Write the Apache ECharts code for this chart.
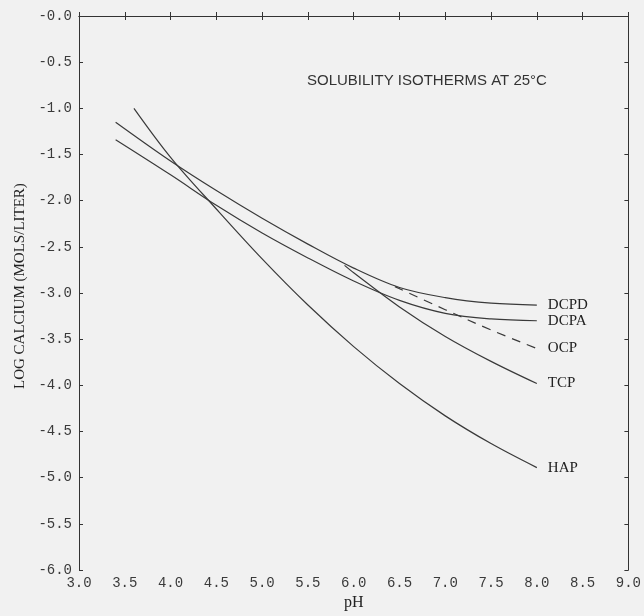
<!DOCTYPE html>
<html>
<head>
<meta charset="utf-8">
<script src="https://cdn.jsdelivr.net/npm/echarts@6/dist/echarts.min.js"></script>
<style>
html,body{margin:0;padding:0;background:#f1f1f1;}
#c{width:644px;height:616px;}
</style>
</head>
<body>
<div id="c"></div>
<script>
// Data (pH vs log calcium)
const dcpdPH = [3.4, 4.0, 4.5, 5.0, 5.5, 6.0, 6.5, 7.0, 7.5, 8.0];
const dcpdLog = [-1.15, -1.57, -1.89, -2.19, -2.47, -2.73, -2.94, -3.05, -3.11, -3.13];
const dcpaPH = [3.4, 4.0, 4.5, 5.0, 5.5, 6.0, 6.5, 7.0, 7.5, 8.0];
const dcpaLog = [-1.34, -1.72, -2.05, -2.35, -2.62, -2.87, -3.08, -3.22, -3.28, -3.30];
const ocpPH = [6.45, 7.0, 7.5, 8.0];
const ocpLog = [-2.93, -3.18, -3.40, -3.60];
const tcpPH = [5.9, 6.0, 6.5, 7.0, 7.5, 8.0];
const tcpLog = [-2.70, -2.78, -3.15, -3.47, -3.74, -3.98];
const hapPH = [3.6, 4.0, 4.5, 5.0, 5.5, 6.0, 6.5, 7.0, 7.5, 8.0];
const hapLog = [-1.0, -1.53, -2.09, -2.63, -3.13, -3.58, -3.98, -4.33, -4.63, -4.89];

const seriesNames = ['DCPD', 'DCPA', 'OCP', 'TCP', 'HAP'];
const chartTitle = 'SOLUBILITY ISOTHERMS AT 25°C';
const xName = 'pH';
const yName = 'LOG CALCIUM (MOLS/LITER)';

const pairs = (xs, ys) => xs.map((x, i) => [x, ys[i]]);
const lineColor = '#3a3a3a';
const textColor = '#3a3a3a';
const monoFont = '"Liberation Mono", "DejaVu Sans Mono", monospace';
const serifFont = '"Liberation Serif", "DejaVu Serif", serif';

function mkSeries(name, data, dashed) {
  return {
    name: name,
    type: 'line',
    data: data,
    smooth: 0.35,
    showSymbol: false,
    symbol: 'none',
    lineStyle: { color: lineColor, width: 1.2, type: dashed ? [9, 7] : 'solid' },
    endLabel: {
      show: true,
      formatter: name,
      distance: 11,
      color: '#222',
      fontFamily: serifFont,
      fontSize: 15
    },
    animation: false
  };
}

const chart = echarts.init(document.getElementById('c'));
const axisCommon = {
  axisLine: { show: true, lineStyle: { color: '#333', width: 1 } },
  axisTick: { show: true, inside: true, length: 4, lineStyle: { color: '#333' } },
  splitLine: { show: false }
};
chart.setOption({
  backgroundColor: '#f1f1f1',
  animation: false,
  grid: { left: 79, right: 12, top: 16, bottom: 37 },
  xAxis: [
    Object.assign({
      type: 'value', min: 3.0, max: 9.0, interval: 0.5,
      name: xName, nameLocation: 'middle', nameGap: 22,
      nameTextStyle: { fontFamily: serifFont, fontSize: 16, color: '#222' },
      axisLabel: {
        formatter: v => v.toFixed(1), fontFamily: monoFont, fontSize: 14,
        color: textColor, margin: 6
      }
    }, axisCommon),
    Object.assign({
      type: 'value', min: 3.0, max: 9.0, interval: 0.5, position: 'top',
      axisLabel: { show: false }
    }, axisCommon)
  ],
  yAxis: [
    Object.assign({
      type: 'value', min: -6, max: 0, interval: 0.5,
      name: yName, nameLocation: 'middle', nameGap: 50,
      nameTextStyle: { fontFamily: serifFont, fontSize: 15, color: '#222', padding: [0, 0, 0, 14] },
      axisLabel: {
        formatter: v => (v <= 0 ? '-' : '') + Math.abs(v).toFixed(1),
        fontFamily: monoFont, fontSize: 14, color: textColor, margin: 7
      }
    }, axisCommon),
    Object.assign({
      type: 'value', min: -6, max: 0, interval: 0.5, position: 'right',
      axisLabel: { show: false }
    }, axisCommon)
  ],
  graphic: [{
    type: 'text', left: 307, top: 73,
    style: { text: chartTitle, fontFamily: '"Liberation Sans", Arial, sans-serif', fontSize: 15, fill: '#333' }
  }],
  series: [
    mkSeries(seriesNames[0], pairs(dcpdPH, dcpdLog), false),
    mkSeries(seriesNames[1], pairs(dcpaPH, dcpaLog), false),
    mkSeries(seriesNames[2], pairs(ocpPH, ocpLog), true),
    mkSeries(seriesNames[3], pairs(tcpPH, tcpLog), false),
    mkSeries(seriesNames[4], pairs(hapPH, hapLog), false)
  ]
});
</script>
</body>
</html>
